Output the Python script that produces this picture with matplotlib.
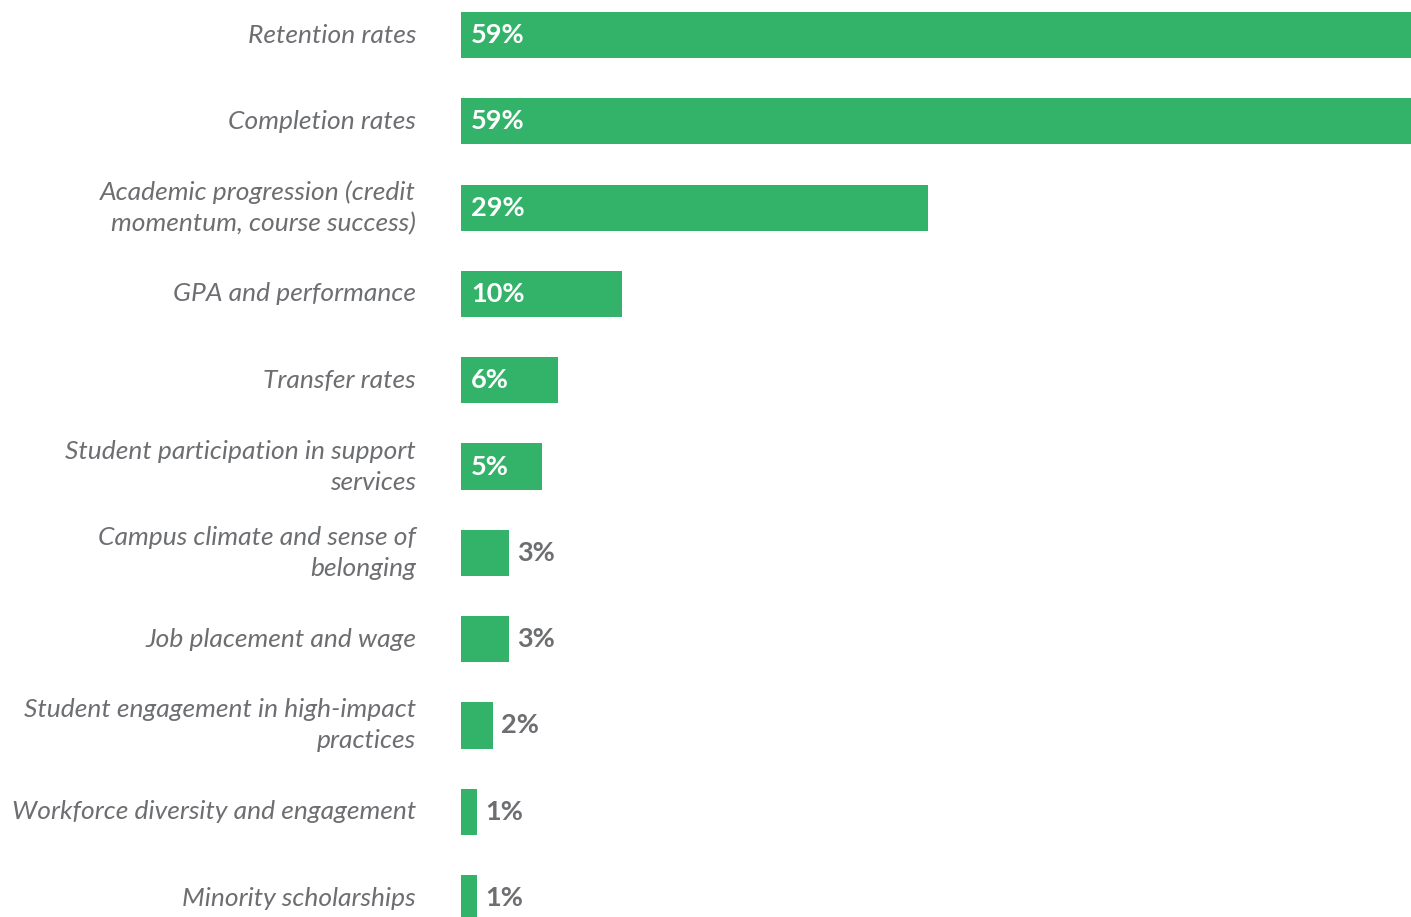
import matplotlib.pyplot as plt
from matplotlib.transforms import offset_copy

categories = [
    "Retention rates",
    "Completion rates",
    "Academic progression (credit\nmomentum, course success)",
    "GPA and performance",
    "Transfer rates",
    "Student participation in support\nservices",
    "Campus climate and sense of\nbelonging",
    "Job placement and wage",
    "Student engagement in high-impact\npractices",
    "Workforce diversity and engagement",
    "Minority scholarships",
]
values = [59, 59, 29, 10, 6, 5, 3, 3, 2, 1, 1]

GREEN = "#33b36a"
GRAY = "#6d6e71"

W, H = 1411, 917
fig = plt.figure(figsize=(W / 100, H / 100), dpi=100)
ax = fig.add_axes([461 / W, 0, 950 / W, 1])

ypos = list(range(len(categories)))
ax.barh(ypos, values, height=0.535, color=GREEN)
ax.set_xlim(0, max(values))
ax.set_ylim(10.22, -0.406)
ax.axis("off")

label_tr = offset_copy(ax.get_yaxis_transform(), fig=fig, x=-45, y=0, units="dots")
for y, cat in zip(ypos, categories):
    ax.text(0, y, cat, transform=label_tr, ha="right", va="center",
            fontsize=19, fontstyle="italic", family="Lato", color=GRAY,
            linespacing=1.42)

for y, v in zip(ypos, values):
    if v >= 5:
        tr = offset_copy(ax.transData, fig=fig, x=10, y=0, units="dots")
        ax.text(0, y, f"{v}%", transform=tr, ha="left", va="center",
                fontsize=19.5, fontweight="bold", family="Lato", color="white")
    else:
        tr = offset_copy(ax.transData, fig=fig, x=8, y=0, units="dots")
        ax.text(v, y, f"{v}%", transform=tr, ha="left", va="center",
                fontsize=19.5, fontweight="bold", family="Lato", color=GRAY)

fig.savefig("out.png", dpi=100)
